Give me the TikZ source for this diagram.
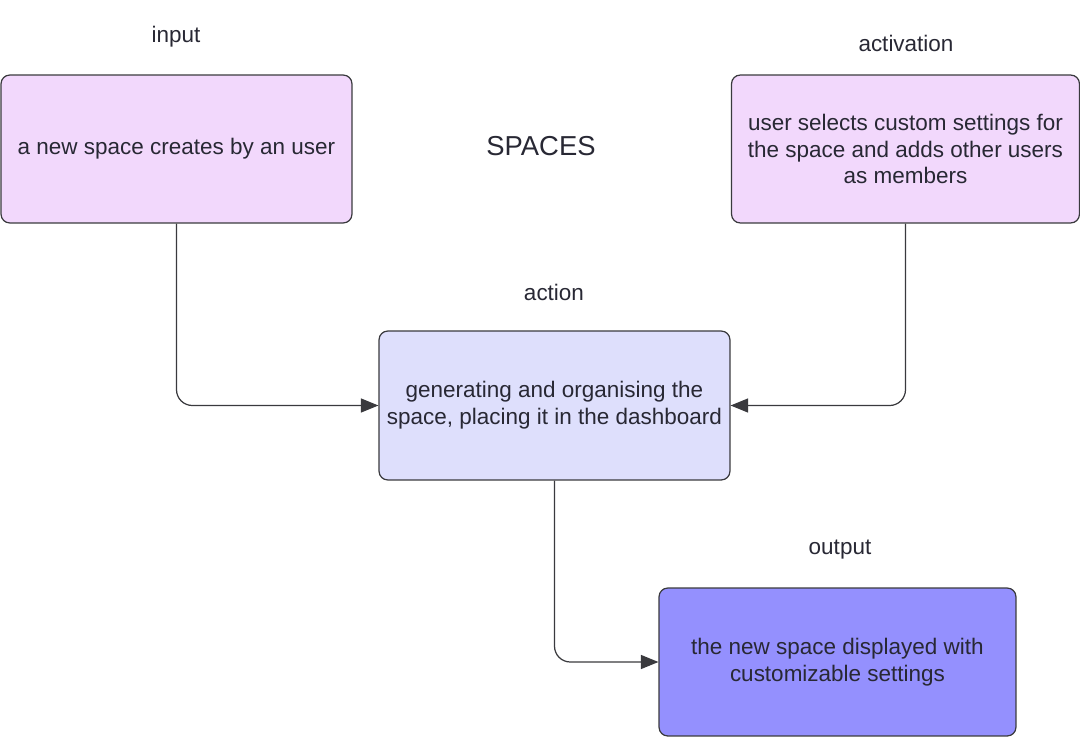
\documentclass[tikz,border=0pt]{standalone}
\usepackage{xcolor}
\usepackage{fontspec}
\setmainfont{Liberation Sans}
\usepackage{tikz}
\usetikzlibrary{positioning}
\usetikzlibrary{arrows.meta}
\usetikzlibrary{calc}
\definecolor[named]{pinkbox}{RGB}{242,216,252}
\definecolor[named]{lilacbox}{RGB}{222,223,252}
\definecolor[named]{violetbox}{RGB}{148,144,254}
\definecolor[named]{inkgray}{RGB}{40,40,52}
\definecolor[named]{edgegray}{RGB}{58,58,62}

\begin{document}
\begin{tikzpicture}[x=0.02cm,y=-0.02cm]
   \useasboundingbox (0,0) rectangle (1080,737);
   \tikzstyle{every node}=[text=inkgray,font=\fontsize{12.8}{15.3}\selectfont];
   \tikzstyle{stepbox}=[draw=edgegray,line width=0.7pt,rounded corners=5pt,align=center,inner sep=0pt];
   \tikzstyle{link}=[draw=edgegray,line width=0.7pt,rounded corners=9pt,-{Triangle[length=10pt,width=8pt]}];
   % boxes
   \node[stepbox,fill=pinkbox,minimum width=7.02cm,minimum height=2.96cm] (input) at (176.5,149) {a new space creates by an user};
   \node[stepbox,fill=pinkbox,minimum width=6.96cm,minimum height=2.96cm] (activation) at (905.5,149) {user selects custom settings for\\the space and adds other users\\as members};
   \node[stepbox,fill=lilacbox,minimum width=7.02cm,minimum height=2.98cm] (action) at (554.5,405.5) {generating and organising the\\space, placing it in the dashboard};
   \node[stepbox,fill=violetbox,minimum width=7.14cm,minimum height=2.96cm] (output) at (837.5,662) {the new space displayed with\\customizable settings};
   % titles
   \node (inputlbl) at (176,37) {input};
   \node (activationlbl) at (906,43) {activation};
   \node (actionlbl) at (554,292) {action};
   \node (outputlbl) at (840,550) {output};
   \node[font=\fontsize{15.6}{18}\selectfont] (title) at (541,146) {SPACES};
   % connectors
   \draw[link] (input.south) |- (action.west);
   \draw[link] (activation.south) |- (action.east);
   \draw[link] (action.south) |- (output.west);
\end{tikzpicture}
\end{document}
